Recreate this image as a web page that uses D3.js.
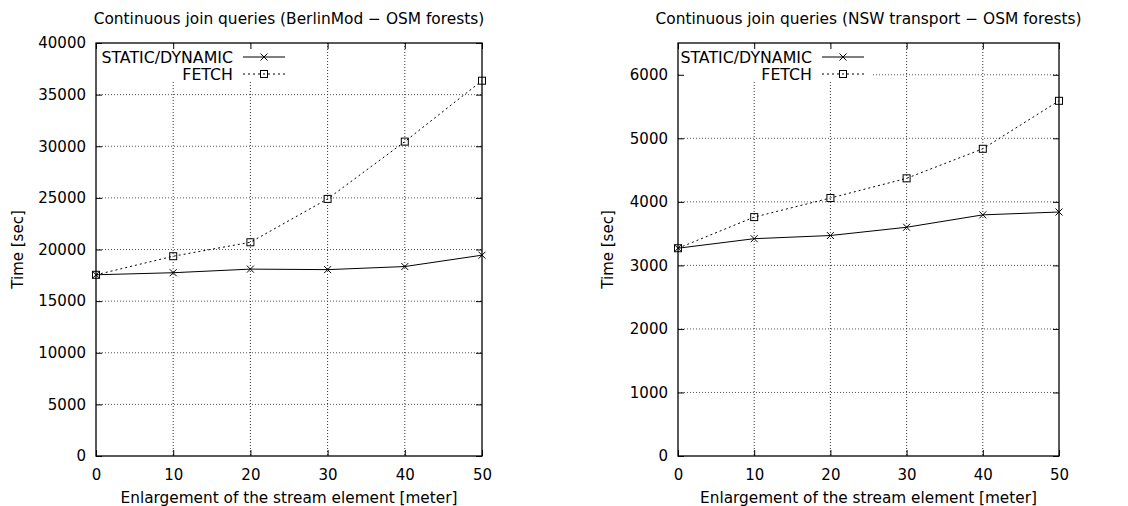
<!DOCTYPE html>
<html>
<head>
<meta charset="utf-8">
<script src="https://cdn.jsdelivr.net/npm/d3@7"></script>
<style>
  body { margin: 0; background: #fff; }
  svg { display: block; font-family: "DejaVu Sans", Verdana, sans-serif; }
</style>
</head>
<body>
<svg id="chart" width="1128" height="506"></svg>
<script>
// x values (enlargement in meter)
const enlargement = [0, 10, 20, 30, 40, 50];

// BerlinMod - OSM forests
const berlinStatic = [17550, 17750, 18100, 18050, 18350, 19450];
const berlinFetch = [17550, 19350, 20700, 24900, 30450, 36350];
const berlinTicks = [0, 5000, 10000, 15000, 20000, 25000, 30000, 35000, 40000];

// NSW transport - OSM forests
const nswStatic = [3270, 3420, 3470, 3600, 3795, 3840];
const nswFetch = [3270, 3760, 4060, 4370, 4835, 5590];
const nswTicks = [0, 1000, 2000, 3000, 4000, 5000, 6000];

const seriesNames = ['STATIC/DYNAMIC', 'FETCH'];

const svg = d3.select('#chart');

function drawPanel(opt) {
    const x = d3.scaleLinear().domain([0, 50]).range([opt.left, opt.right]);
    const y = d3.scaleLinear().domain(opt.yDomain).range([opt.bottom, opt.top]);
    const g = svg.append('g');

    // grid (dotted)
    g.selectAll('.hgrid')
        .data(opt.yTicks.filter(t => t > opt.yDomain[0] && t < opt.yDomain[1]))
        .enter().append('line')
        .attr('x1', opt.left).attr('x2', opt.right)
        .attr('y1', d => y(d)).attr('y2', d => y(d))
        .attr('stroke', '#555').attr('stroke-dasharray', '1,2');
    g.selectAll('.vgrid')
        .data(enlargement.filter(t => t > 0 && t < 50))
        .enter().append('line')
        .attr('x1', d => x(d)).attr('x2', d => x(d))
        .attr('y1', opt.top).attr('y2', opt.bottom)
        .attr('stroke', '#333').attr('stroke-dasharray', '1,2');

    // legend backing box (hides grid)
    g.append('rect')
        .attr('x', opt.left + 1).attr('y', opt.top + 1)
        .attr('width', opt.keyWidth).attr('height', 38)
        .attr('fill', '#fff');

    // axes, ticks inward and mirrored
    const tick = 6;
    const fmt = d3.format('d');
    const yAxis = d3.axisLeft(y).tickValues(opt.yTicks).tickSize(-tick).tickPadding(10).tickFormat(fmt);
    const yAxisR = d3.axisRight(y).tickValues(opt.yTicks).tickSize(-tick).tickFormat('');
    const xAxis = d3.axisBottom(x).tickValues(enlargement).tickSize(-tick).tickPadding(13).tickFormat(fmt);
    const xAxisT = d3.axisTop(x).tickValues(enlargement).tickSize(-tick).tickFormat('');

    [[yAxis, `translate(${opt.left},0)`], [yAxisR, `translate(${opt.right},0)`],
     [xAxis, `translate(0,${opt.bottom})`], [xAxisT, `translate(0,${opt.top})`]].forEach(([ax, tr]) => {
        const a = g.append('g').attr('transform', tr).call(ax);
        a.select('.domain').remove();
        a.selectAll('line').attr('stroke', '#000');
        a.selectAll('text').attr('fill', '#000').style('font-size', '15px')
            .style('font-family', '"DejaVu Sans", sans-serif');
    });

    // border
    g.append('rect')
        .attr('x', opt.left).attr('y', opt.top)
        .attr('width', opt.right - opt.left).attr('height', opt.bottom - opt.top)
        .attr('fill', 'none').attr('stroke', '#000').attr('stroke-width', 1.3);

    // lines
    const line = d3.line().x((d, i) => x(enlargement[i])).y(d => y(d));
    g.append('path').datum(opt.fetch)
        .attr('fill', 'none').attr('stroke', '#000').attr('stroke-width', 1)
        .attr('stroke-dasharray', '2,3').attr('d', line);
    g.append('path').datum(opt.stat)
        .attr('fill', 'none').attr('stroke', '#000').attr('stroke-width', 1)
        .attr('d', line);

    // markers
    const cross = (sel, cx, cy) => {
        const s = 3.5;
        sel.append('path')
            .attr('d', `M${cx - s},${cy - s}L${cx + s},${cy + s}M${cx - s},${cy + s}L${cx + s},${cy - s}`)
            .attr('stroke', '#000').attr('stroke-width', 1).attr('fill', 'none');
    };
    const square = (sel, cx, cy) => {
        sel.append('rect')
            .attr('x', cx - 3.5).attr('y', cy - 3.5).attr('width', 7).attr('height', 7)
            .attr('fill', 'none').attr('stroke', '#000').attr('stroke-width', 1);
    };
    opt.stat.forEach((v, i) => cross(g, x(enlargement[i]), y(v)));
    opt.fetch.forEach((v, i) => square(g, x(enlargement[i]), y(v)));

    // legend
    const textEnd = opt.left + opt.keyText;
    seriesNames.forEach((name, i) => {
        const ly = opt.top + 14 + i * 17;
        g.append('text')
            .attr('x', textEnd).attr('y', ly + 6)
            .attr('text-anchor', 'end')
            .style('font-size', '15.8px')
            .text(name);
        const s = g.append('g');
        s.append('line')
            .attr('x1', textEnd + 10).attr('x2', textEnd + 52)
            .attr('y1', ly).attr('y2', ly)
            .attr('stroke', '#000')
            .attr('stroke-dasharray', i === 1 ? '2,3' : null);
        if (i === 0) cross(s, textEnd + 31, ly);
        else square(s, textEnd + 31, ly);
    });

    // title and axis labels
    svg.append('text')
        .attr('x', (opt.left + opt.right) / 2).attr('y', 24)
        .attr('text-anchor', 'middle').style('font-size', '15.4px')
        .text(opt.title);
    svg.append('text')
        .attr('x', (opt.left + opt.right) / 2).attr('y', 503)
        .attr('text-anchor', 'middle').style('font-size', '15.3px')
        .text('Enlargement of the stream element [meter]');
    svg.append('text')
        .attr('transform', `translate(${opt.labelX},${(opt.top + opt.bottom) / 2}) rotate(-90)`)
        .attr('text-anchor', 'middle').style('font-size', '15px')
        .text('Time [sec]');
}

drawPanel({
    left: 96, right: 482, top: 43, bottom: 456,
    yDomain: [0, 40000], yTicks: berlinTicks,
    stat: berlinStatic, fetch: berlinFetch,
    keyText: 137, keyWidth: 197, labelX: 23,
    title: 'Continuous join queries (BerlinMod \u2212 OSM forests)'
});

drawPanel({
    left: 678, right: 1059, top: 43, bottom: 456,
    yDomain: [0, 6500], yTicks: nswTicks,
    stat: nswStatic, fetch: nswFetch,
    keyText: 134, keyWidth: 194, labelX: 613,
    title: 'Continuous join queries (NSW transport \u2212 OSM forests)'
});
</script>
</body>
</html>
